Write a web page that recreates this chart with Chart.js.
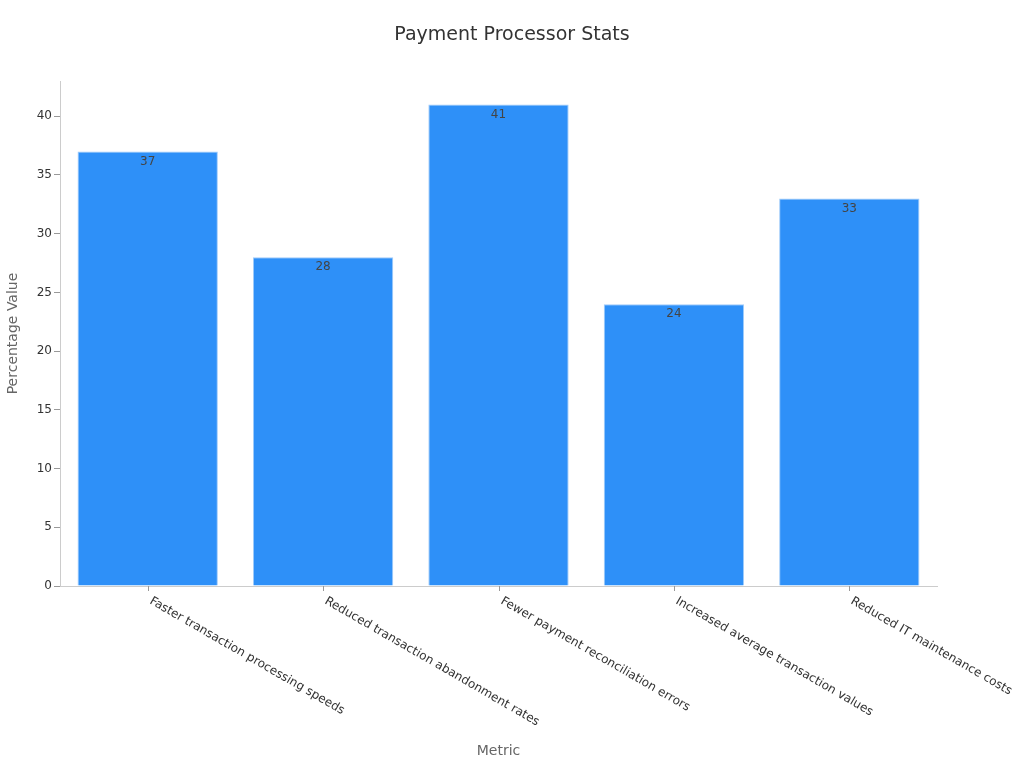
<!DOCTYPE html>
<html>
<head>
<meta charset="utf-8">
<script src="https://cdn.jsdelivr.net/npm/chart.js@4"></script>
<style>
  html, body { margin: 0; padding: 0; background: #fff; }
  #wrap { width: 1024px; height: 768px; }
</style>
</head>
<body>
<div id="wrap"><canvas id="myChart" width="1024" height="768"></canvas></div>
<script>
// data
const categories = [
  'Faster transaction processing speeds',
  'Reduced transaction abandonment rates',
  'Fewer payment reconciliation errors',
  'Increased average transaction values',
  'Reduced IT maintenance costs'
];
const values = [37, 28, 41, 24, 33];
const yTicks = [0, 5, 10, 15, 20, 25, 30, 35, 40];

const FONT = "'DejaVu Sans', sans-serif";

// title centred on the whole page
const pageTitle = {
  id: 'pageTitle',
  afterDraw(chart) {
    const ctx = chart.ctx;
    ctx.save();
    ctx.font = '19px ' + FONT;
    ctx.fillStyle = '#333';
    ctx.textAlign = 'center';
    ctx.textBaseline = 'middle';
    ctx.fillText('Payment Processor Stats', chart.width / 2, 35);
    ctx.restore();
  }
};

// value labels just under the top of each bar
const barLabels = {
  id: 'barLabels',
  afterDatasetsDraw(chart) {
    const ctx = chart.ctx;
    const meta = chart.getDatasetMeta(0);
    ctx.save();
    ctx.font = '12px ' + FONT;
    ctx.fillStyle = '#444';
    ctx.textAlign = 'center';
    ctx.textBaseline = 'middle';
    meta.data.forEach((bar, i) => {
      ctx.fillText(String(values[i]), bar.x, bar.y + 10);
    });
    ctx.restore();
  }
};

// x tick marks and slanted labels going down to the right
const xLabels = {
  id: 'xLabels',
  afterDraw(chart) {
    const ctx = chart.ctx;
    const x = chart.scales.x;
    const top = chart.chartArea.bottom;
    ctx.save();
    ctx.strokeStyle = '#999';
    ctx.lineWidth = 1;
    ctx.font = '12px ' + FONT;
    ctx.fillStyle = '#333';
    ctx.textAlign = 'left';
    ctx.textBaseline = 'top';
    categories.forEach((c, i) => {
      const px = Math.round(x.getPixelForValue(i)) + 0.5;
      ctx.beginPath();
      ctx.moveTo(px, top);
      ctx.lineTo(px, top + 5);
      ctx.stroke();
      ctx.save();
      ctx.translate(px + 5, top + 9);
      ctx.rotate(Math.PI / 6);
      ctx.fillText(c, 0, 0);
      ctx.restore();
    });
    ctx.restore();
  }
};

const data = {
  labels: categories,
  datasets: [{
    label: 'Percentage Value',
    data: values,
    backgroundColor: '#2e90f8',
    borderColor: '#9fcbfa',
    borderWidth: 1,
    barPercentage: 0.8,
    categoryPercentage: 1
  }]
};

const config = {
  type: 'bar',
  data: data,
  plugins: [barLabels, xLabels, pageTitle],
  options: {
    responsive: false,
    animation: false,
    layout: { padding: { left: 0, right: 87, top: 81, bottom: 0 } },
    plugins: {
      legend: { display: false },
      tooltip: { enabled: false },
      title: { display: false }
    },
    scales: {
      x: {
        ticks: { display: false },
        grid: { display: false },
        border: { color: '#ccc' },
        title: {
          display: true,
          text: 'Metric',
          color: '#666',
          font: { family: FONT, size: 14 },
          padding: { top: 4, bottom: 8 }
        },
        afterFit(scale) { scale.height = 182; }
      },
      y: {
        min: 0,
        max: 43,
        afterBuildTicks(scale) { scale.ticks = yTicks.map(v => ({ value: v })); },
        ticks: {
          color: '#333',
          font: { family: FONT, size: 12 },
          padding: 2
        },
        grid: { drawOnChartArea: false, drawTicks: true, tickLength: 6, color: '#999' },
        border: { color: '#ccc' },
        title: {
          display: true,
          text: 'Percentage Value',
          color: '#666',
          font: { family: FONT, size: 14 },
          padding: { top: 5, bottom: 4 }
        },
        afterFit(scale) { scale.width = 60; }
      }
    }
  }
};

const myChart = new Chart(document.getElementById('myChart'), config);
</script>
</body>
</html>
